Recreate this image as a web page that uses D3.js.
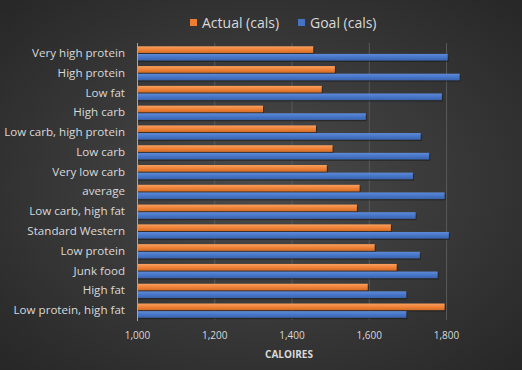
<!DOCTYPE html>
<html>
<head>
<script src="https://cdnjs.cloudflare.com/ajax/libs/d3/7.8.5/d3.min.js"></script>
<style>
  body { margin: 0; background: #2b2b2b; }
  svg text { font-family: "Open Sans", sans-serif; }
</style>
</head>
<body>
<div id="vis"></div>
<script type="text/javascript">
    const categories = ["Very high protein", "High protein", "Low fat", "High carb",
        "Low carb, high protein", "Low carb", "Very low carb", "average",
        "Low carb, high fat", "Standard Western", "Low protein", "Junk food",
        "High fat", "Low protein, high fat"];
    const actual = [1455, 1511, 1477, 1325, 1462, 1505, 1490, 1575, 1568, 1656, 1614, 1671, 1596, 1795];
    const goal = [1803, 1834, 1788, 1591, 1733, 1755, 1713, 1795, 1720, 1806, 1731, 1777, 1696, 1696];
    const seriesNames = ["Actual (cals)", "Goal (cals)"];
    const xTicks = [1000, 1200, 1400, 1600, 1800];

    const width = 522, height = 370;
    const colors = ["#ED7D31", "#4472C4"];
    const light = ["#F8A060", "#5D8AD8"];

    const svg = d3.select("#vis").append("svg")
        .attr("width", width)
        .attr("height", height);

    const defs = svg.append("defs");
    const bg = defs.append("radialGradient").attr("id", "bg")
        .attr("cx", "50%").attr("cy", "50%").attr("r", "70%");
    bg.append("stop").attr("offset", "0%").attr("stop-color", "#4b4b4b");
    bg.append("stop").attr("offset", "100%").attr("stop-color", "#272727");
    colors.forEach((c, i) => {
        const g = defs.append("linearGradient").attr("id", "bar" + i)
            .attr("x1", 0).attr("y1", 0).attr("x2", 0).attr("y2", 1);
        g.append("stop").attr("offset", "0%").attr("stop-color", light[i]);
        g.append("stop").attr("offset", "60%").attr("stop-color", c);
        g.append("stop").attr("offset", "100%").attr("stop-color", d3.color(c).darker(0.4));
    });

    svg.append("rect").attr("width", width).attr("height", height).attr("fill", "url(#bg)");

    const x = d3.scaleLinear().domain([1000, 1840]).range([137.5, 462]);
    const y0 = d3.scaleBand().domain(categories).range([43, 320]);
    const y1 = d3.scaleBand().domain([0, 1]).range([3.3, 17.6]).paddingInner(0.12);

    // gridlines
    svg.append("g").selectAll("line")
        .data(xTicks.slice(1))
        .join("line")
        .attr("x1", d => x(d)).attr("x2", d => x(d))
        .attr("y1", 43).attr("y2", 320)
        .attr("stroke", "#5a5a5a").attr("stroke-width", 1);

    const rows = svg.append("g").selectAll("g")
        .data(categories)
        .join("g")
        .attr("transform", d => "translate(0," + y0(d) + ")");

    [actual, goal].forEach((vals, s) => {
        // shadow
        rows.append("rect")
            .attr("x", x(1000))
            .attr("y", y1(s) + 1.3)
            .attr("width", (d, i) => x(vals[i]) - x(1000) + 1)
            .attr("height", y1.bandwidth())
            .attr("fill", "#1a1a1a").attr("opacity", 0.6);
        rows.append("rect")
            .attr("x", x(1000))
            .attr("y", y1(s))
            .attr("width", (d, i) => x(vals[i]) - x(1000))
            .attr("height", y1.bandwidth())
            .attr("fill", "url(#bar" + s + ")");
    });

    // axis line
    svg.append("line")
        .attr("x1", x(1000)).attr("x2", x(1000))
        .attr("y1", 43).attr("y2", 321)
        .attr("stroke", "#a6a6a6").attr("stroke-width", 1);

    // category labels
    svg.append("g").selectAll("text")
        .data(categories)
        .join("text")
        .attr("x", 125)
        .attr("y", d => y0(d) + y0.bandwidth() / 2)
        .attr("dy", "0.35em")
        .attr("text-anchor", "end")
        .attr("font-size", 11.6)
        .attr("fill", "#d9d9d9")
        .text(d => d);

    // x tick labels
    svg.append("g").selectAll("text")
        .data(xTicks)
        .join("text")
        .attr("x", d => x(d))
        .attr("y", 339)
        .attr("text-anchor", "middle")
        .attr("font-size", 10)
        .attr("fill", "#d9d9d9")
        .text(d3.format(","));

    svg.append("text")
        .attr("x", 289).attr("y", 358)
        .attr("text-anchor", "middle")
        .attr("font-size", 10)
        .attr("font-weight", "bold")
        .attr("fill", "#d9d9d9")
        .text("CALOIRES");

    // legend
    const legend = svg.append("g");
    const legX = [190, 298];
    seriesNames.forEach((name, i) => {
        legend.append("rect")
            .attr("x", legX[i]).attr("y", 19)
            .attr("width", 7).attr("height", 7)
            .attr("fill", colors[i]);
        legend.append("text")
            .attr("x", legX[i] + 12).attr("y", 28)
            .attr("font-size", 14)
            .attr("fill", "#d9d9d9")
            .text(name);
    });
</script>
</body>
</html>
